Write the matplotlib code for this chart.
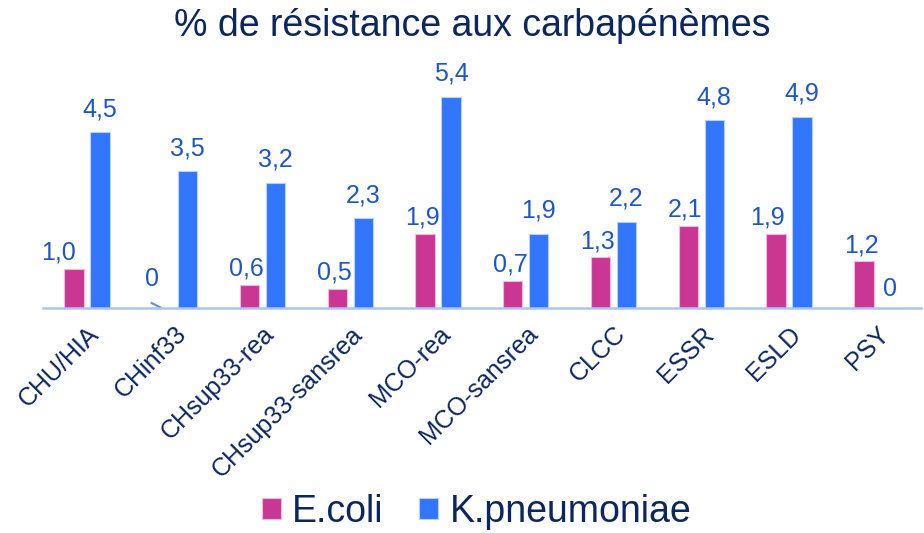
import matplotlib
matplotlib.use("Agg")
import matplotlib.pyplot as plt
import numpy as np

categories = ['CHU/HIA', 'CHinf33', 'CHsup33-rea', 'CHsup33-sansrea', 'MCO-rea',
              'MCO-sansrea', 'CLCC', 'ESSR', 'ESLD', 'PSY']
ecoli = [1.0, 0, 0.6, 0.5, 1.9, 0.7, 1.3, 2.1, 1.9, 1.2]
kpneu = [4.5, 3.5, 3.2, 2.3, 5.4, 1.9, 2.2, 4.8, 4.9, 0]

plt.rcParams['font.family'] = ['Liberation Sans', 'DejaVu Sans']

c_ecoli = '#cb3594'
c_kpneu = '#3176fc'
c_lab = '#1f56c6'
c_navy = '#0c2760'
fs_val = 18

# horizontal nudges (points) for the E.coli labels, like excel moved them
nudge = {0: -11, 8: -6}

fig = plt.figure(figsize=(9.24, 5.33), dpi=100)
ax = fig.add_axes([0.0465, 0.422, 0.95, 0.44])

x = np.arange(len(categories))
w = 0.22
off = 0.148
b1 = ax.bar(x - off, ecoli, w, color=c_ecoli, edgecolor='#f0b8dc', linewidth=0.8, label='E.coli')
b2 = ax.bar(x + off, kpneu, w, color=c_kpneu, edgecolor='#b8d0ff', linewidth=0.8, label='K.pneumoniae')

def fmt(v):
    return ('%.1f' % v).replace('.', ',') if v != 0 else '0'

for i, (xi, v) in enumerate(zip(x, ecoli)):
    if v == 0:
        ax.text(xi - off - 0.11, 0.75, '0', ha='center', va='center',
                color=c_lab, fontsize=fs_val)
        # leader line down to the (empty) bar
        ax.plot([xi - off - 0.125, xi - off], [0.14, 0.0], color='#5f93ee', lw=1.6,
                solid_capstyle='butt', clip_on=False)
    else:
        ax.annotate(fmt(v), xy=(xi - off, v), xytext=(nudge.get(i, -2), 3),
                    textcoords='offset points', ha='center', va='bottom',
                    color=c_lab, fontsize=fs_val)
for xi, v in zip(x, kpneu):
    if v == 0:
        ax.text(xi + off, 0.49, '0', ha='center', va='center',
                color=c_lab, fontsize=fs_val)
    else:
        ax.annotate(fmt(v), xy=(xi + off, v), xytext=(0, 8), textcoords='offset points',
                    ha='center', va='bottom', color=c_lab, fontsize=fs_val)

ax.set_xlim(-0.5, len(categories) - 0.5)
ax.set_ylim(0, 6)
ax.set_yticks([])
for s in ['top', 'right', 'left']:
    ax.spines[s].set_visible(False)
ax.spines['bottom'].set_color('#a9c5f5')
ax.spines['bottom'].set_linewidth(1.8)

ax.set_xticks(x)
ax.set_xticklabels(categories, rotation=45, ha='right', va='top',
                   rotation_mode='anchor', fontsize=18, color=c_navy)
ax.tick_params(axis='x', length=0, pad=10)

fig.suptitle('% de résistance aux carbapénèmes', x=0.511, y=0.985, va='top',
             fontsize=27, color=c_navy)

leg = fig.legend(handles=[b1, b2], loc='center', ncol=2, frameon=False, fontsize=27,
                 handlelength=0.5, handleheight=0.5, handletextpad=0.3, columnspacing=0.95)
leg.set_bbox_to_anchor((0.516, 0.04), transform=fig.transFigure)
for t in leg.get_texts():
    t.set_color(c_navy)

fig.savefig('out.png', dpi=100)
